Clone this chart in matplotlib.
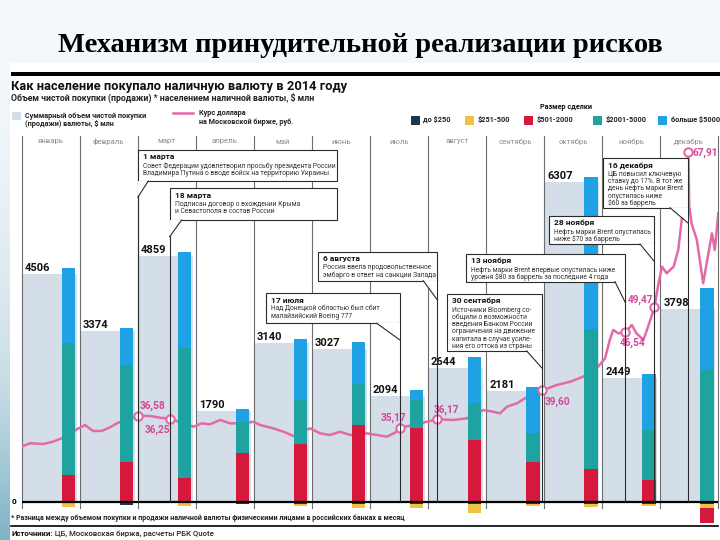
import numpy as np
import matplotlib
matplotlib.use("Agg")
import matplotlib.pyplot as plt
import matplotlib.transforms as mtransforms
from matplotlib.patches import Rectangle, Polygon

W, H = 720, 540
SANS = ["Roboto", "DejaVu Sans"]
plt.rcParams["font.family"] = SANS

# ── данные ───────────────────────────────────────────────────────────
months = ["январь", "февраль", "март", "апрель", "май", "июнь",
          "июль", "август", "сентябрь", "октябрь", "ноябрь", "декабрь"]
net_total = [4506, 3374, 4859, 1790, 3140, 3027, 2094, 2644, 2181, 6307, 2449, 3798]

# размер сделки, $ млн (отрицательные — чистая продажа)
upto_250 = [-10, -55, -10, -45, -40, -45, -40, -45, -40, -45, -40, -40]
from_251_500 = [-90, 0, -70, 0, -30, -80, -80, -170, -45, -60, -30, -80]
from_501_2000 = [540, 790, 467, 959, 1138, 1513, 1467, 1217, 797, 659, 442, -296]
from_2001_5000 = [2600, 1910, 2564, 623, 868, 822, 552, 736, 572, 2761, 973, 2598]
over_5000 = [1466, 729, 1908, 253, 1204, 817, 195, 906, 897, 2992, 1104, 1616]

seg_names = ["до $250", "$251-500", "$501-2000", "$2001-5000", "больше $5000"]
seg_values = [upto_250, from_251_500, from_501_2000, from_2001_5000, over_5000]
seg_colors = ["#1b3850", "#f0c246", "#d6183d", "#1fa3a0", "#1ea2e4"]

# курс доллара (позиция в месяцах от 1 января, руб.)
rate_pos = [0.00, 0.14, 0.37, 0.54, 0.69, 0.95, 1.09, 1.23, 1.38, 1.52, 1.66,
            2.00, 2.21, 2.38, 2.548, 2.96, 3.10, 3.24, 3.42, 3.59, 3.82, 3.99,
            4.11, 4.33, 4.51, 4.68, 4.97, 5.14, 5.31, 5.48, 5.66, 5.94, 6.12,
            6.29, 6.43, 6.516, 6.75, 6.98, 7.161, 7.44, 7.67, 7.95, 8.12, 8.24,
            8.36, 8.53, 8.67, 8.967, 9.22, 9.45, 9.67, 9.93, 10.05, 10.13,
            10.19, 10.28, 10.40, 10.51, 10.59, 10.71, 10.79, 10.90, 10.97,
            11.03, 11.11, 11.23, 11.31, 11.37, 11.43, 11.484, 11.50, 11.54,
            11.63, 11.74, 11.80, 11.89, 11.94, 12.00]
rate_val = [32.91, 33.32, 33.23, 33.51, 33.91, 34.98, 35.49, 34.78, 34.78, 35.22,
            35.76, 36.58, 36.56, 36.36, 36.25, 35.29, 35.69, 35.57, 36.09, 35.69,
            35.69, 35.88, 35.49, 35.10, 34.69, 34.18, 35.10, 34.50, 34.30, 34.69,
            34.30, 34.50, 34.30, 34.10, 34.58, 35.17, 35.49, 35.88, 36.17, 36.09,
            36.29, 37.27, 37.07, 36.88, 37.67, 38.07, 38.67, 39.60, 40.25, 40.64,
            41.23, 42.42, 43.42, 45.60, 46.79, 46.39, 46.54, 47.38, 46.39, 45.60,
            47.18, 49.47, 52.34, 54.31, 53.53, 54.31, 56.30, 59.87, 63.43, 67.91,
            61.45, 59.47, 57.49, 52.34, 54.72, 58.29, 56.30, 60.66]

event_pos = [2.0, 2.548, 6.516, 7.161, 8.967, 10.40, 10.90, 11.484]
event_val = [36.58, 36.25, 35.17, 36.17, 39.60, 46.54, 49.47, 67.91]
event_titles = ["1 марта", "18 марта", "17 июля", "6 августа", "30 сентября",
                "13 ноября", "28 ноября", "16 декабря"]
event_texts = [
    ["Совет Федерации удовлетворил просьбу президента России",
     "Владимира Путина о вводе войск на территорию Украины"],
    ["Подписан договор о вхождении Крыма", "и Севастополя в состав России"],
    ["Над Донецкой областью был сбит", "малайзийский Boeing 777"],
    ["Россия ввела продовольственное", "эмбарго в ответ на санкции Запада"],
    ["Источники Bloomberg со-", "общили о возможности", "введения Банком России",
     "ограничения на движение", "капитала в случае усиле-", "ния его оттока из страны"],
    ["Нефть марки Brent впервые опустилась ниже",
     "уровня $80 за баррель за последние 4 года"],
    ["Нефть марки Brent опустилась", "ниже $70 за баррель"],
    ["ЦБ повысил ключевую", "ставку до 17%. В тот же", "день нефть марки Brent",
     "опустилась ниже", "$60 за баррель"],
]

# ── раскладка (пиксели) ─────────────────────────────────────────────
X0, X1 = 21.7, 718.3
Y_TOP, Y_BOT, Y_ZERO = 130, 530, 502
PX_PER_MLN = 0.0507
R_REF, Y_REF, PX_PER_RUB = 35.17, 427.7, 8.41

LIGHT = "#d3dee8"
PINK = "#e36aa6"
PINK_TXT = "#d2489a"

fig = plt.figure(figsize=(W / 100, H / 100), dpi=100, facecolor="#f5f8fb")

# полоса слева и белое поле инфографики
grad = fig.add_axes([0, 0, 10 / W, 1], zorder=-2)
g = np.linspace(0, 1, 200) ** 2
grad.imshow(g[:, None], aspect="auto", cmap=matplotlib.colors.LinearSegmentedColormap.from_list(
    "g", ["#f5f8fb", "#c8dde6", "#7fb3c6"]), origin="upper", extent=[0, 1, 0, 1])
grad.axis("off")
bg = fig.add_axes([10 / W, 0, 1 - 10 / W, 1 - 63 / H], zorder=-1)
bg.set_facecolor("white")
bg.set_xticks([]); bg.set_yticks([])
for s in bg.spines.values():
    s.set_visible(False)

ax = fig.add_axes([X0 / W, 1 - Y_BOT / H, (X1 - X0) / W, (Y_BOT - Y_TOP) / H])
ax.set_xlim(0, 12)
ax.set_ylim(-(Y_BOT - Y_ZERO) / PX_PER_MLN, (Y_ZERO - Y_TOP) / PX_PER_MLN)
ax.axis("off")

r_lo = R_REF - (Y_BOT - Y_REF) / PX_PER_RUB
r_hi = R_REF + (Y_REF - Y_TOP) / PX_PER_RUB
rate_y = mtransforms.Affine2D().translate(0, -r_lo).scale(1, 1 / (r_hi - r_lo)) + ax.transAxes
tr_rate = mtransforms.blended_transform_factory(ax.transData, rate_y)

ov = fig.add_axes([0, 0, 1, 1], zorder=5)
ov.set_xlim(0, W)
ov.set_ylim(H, 0)
ov.axis("off")

x = np.arange(12)

# суммарный объем
ax.bar(x + 0.475, net_total, width=0.95, color=LIGHT, zorder=1)
for i, v in enumerate(net_total):
    ax.annotate(str(v), (i, v), xytext=(3, 1), textcoords="offset pixels",
                ha="left", va="bottom", fontsize=8, fontweight="bold", color="#111", zorder=4)

# разделители месяцев
for m in range(13):
    ax.plot([m, m], [-6 / PX_PER_MLN, (Y_ZERO - 136) / PX_PER_MLN], color="#6d6d6d",
            lw=0.8, zorder=1.5, clip_on=False)
for i, name in enumerate(months):
    ax.text(i + 0.5, (Y_ZERO - 141.5) / PX_PER_MLN, name, ha="center", va="center",
            fontsize=5.6, color="#8a8a8a", zorder=4)

# курс
ax.plot(rate_pos, rate_val, transform=tr_rate, color=PINK, lw=1.8, zorder=2,
        solid_joinstyle="round")

# составные столбцы
pos_b = np.zeros(12)
neg_b = np.zeros(12)
for vals, col in zip(seg_values, seg_colors):
    v = np.array(vals, dtype=float)
    bottom = np.where(v >= 0, pos_b, neg_b)
    ax.bar(x + 0.805, v, width=0.23, bottom=bottom, color=col, zorder=3, linewidth=0)
    pos_b += np.where(v >= 0, v, 0)
    neg_b += np.where(v < 0, v, 0)

ax.plot([0, 12], [0, 0], color="black", lw=1.6, zorder=3.2, solid_capstyle="butt")
ax.text(-0.1, 0, "0", ha="right", va="center", fontsize=6, fontweight="bold")


def px_of(pos, val, tr):
    dx, dy = tr.transform((pos, val))
    return dx, H - dy


# события: выноски
boxes = [
    # (сторона привязки, другой край x, верх, низ, начало хвоста x, конец хвоста y)
    ("left", 337.3, 150.0, 181.0, 148.3, 197.3),
    ("left", 337.3, 188.3, 220.0, 181.7, 236.7),
    ("right", 265.7, 293.3, 323.3, 376.7, 340.0),
    ("right", 318.3, 251.7, 280.7, 423.3, 300.0),
    ("right", 446.7, 294.0, 351.0, 526.7, 368.3),
    ("right", 465.7, 254.0, 281.7, 615.0, 302.7),
    ("right", 549.0, 216.0, 244.0, 640.0, 261.7),
    ("right", 603.3, 158.3, 207.7, 670.0, 223.3),
]
zero_px = px_of(0, 0, ax.transData)[1]
for k, (side, other, top, bot, tx, ty) in enumerate(boxes):
    ex, _ = px_of(event_pos[k], event_val[k], tr_rate)
    left, right = (ex, other) if side == "left" else (other, ex)
    ov.add_patch(Rectangle((left, top), right - left, bot - top, facecolor="white",
                           edgecolor="#2b2b2b", lw=0.8, zorder=6))
    ov.add_patch(Polygon([(tx, bot), (ex, bot), (ex, ty)], closed=True,
                         facecolor="white", edgecolor="none", zorder=6))
    ov.plot([tx, ex], [bot, ty], color="#2b2b2b", lw=0.8, zorder=6.5)
    ov.plot([ex, ex], [bot, zero_px], color="#2b2b2b", lw=0.8, zorder=2)
    ov.text(left + 5, top + 6.8, event_titles[k], fontsize=6, fontweight="bold",
            va="center", ha="left", color="#111", zorder=7)
    for j, line in enumerate(event_texts[k]):
        ov.text(left + 5, top + 16 + j * 7.3, line, fontsize=4.9, va="center",
                ha="left", color="#333", zorder=7)

# маркеры и подписи курса
ax.plot(event_pos, event_val, "o", transform=tr_rate, ms=6, mfc="white", mec=PINK,
        mew=1.5, zorder=5, clip_on=False)
label_offsets = [(2, 10, "left"), (1, -11, "right"), (-6, 10, "center"),
                 (9, 9, "center"), (2, -11, "left"), (7, -11, "center"),
                 (-1, 8, "right"), (4, 0, "left")]
for k, (dx, dy, ha) in enumerate(label_offsets):
    ax.annotate(f"{event_val[k]:.2f}".replace(".", ","), (event_pos[k], event_val[k]),
                xycoords=tr_rate, xytext=(dx, dy), textcoords="offset pixels",
                ha=ha, va="center", fontsize=7.3, fontweight="bold", color=PINK_TXT,
                zorder=6, annotation_clip=False)

# ── заголовки и легенда ─────────────────────────────────────────────
ov.text(360, 45, "Механизм принудительной реализации рисков", ha="center", va="center",
        family=["Liberation Serif", "DejaVu Serif"], fontweight="bold", fontsize=20.5)
ov.add_patch(Rectangle((11, 71.5), W - 11, 4.5, color="black", lw=0))
ov.text(11, 86.7, "Как население покупало наличную валюту в 2014 году", fontsize=9.3,
        fontweight="bold", va="center", ha="left", color="#111")
ov.text(11, 98.3, "Объем чистой покупки (продажи) * населением наличной валюты, $ млн",
        fontsize=6.3, fontweight="bold", va="center", ha="left", color="#222")

ov.add_patch(Rectangle((11.5, 111.5), 9.5, 8, color=LIGHT, lw=0))
ov.text(25, 116, "Суммарный объем чистой покупки", fontsize=5.2, fontweight="bold",
        va="center", ha="left", color="#222")
ov.text(25, 124.5, "(продажи) валюты, $ млн", fontsize=5.2, fontweight="bold",
        va="center", ha="left", color="#222")
ov.plot([173, 192.5], [112.7, 112.7], color=PINK, lw=1.8)
ov.text(199, 113, "Курс доллара", fontsize=5.2, fontweight="bold", va="center",
        ha="left", color="#222")
ov.text(199, 121.5, "на Московской бирже, руб.", fontsize=5.2, fontweight="bold",
        va="center", ha="left", color="#222")

ov.text(566, 107.3, "Размер сделки", fontsize=5.2, fontweight="bold", va="center",
        ha="center", color="#111")
for lx, name, col in zip([410.7, 465, 524, 593.3, 658.3], seg_names, seg_colors):
    ov.add_patch(Rectangle((lx, 115.5), 9, 9, color=col, lw=0))
    ov.text(lx + 12.5, 120, name, fontsize=5.2, fontweight="bold", va="center",
            ha="left", color="#222")

# ── сноски ──────────────────────────────────────────────────────────
ov.text(11, 517.5, "* Разница между объемом покупки и продажи наличной валюты физическими "
        "лицами в российских банках в месяц", fontsize=5.0, fontweight="bold",
        va="center", ha="left", color="#222")
ov.plot([11, 718], [525.5, 525.5], color="black", lw=1.2)
t = ov.text(11, 534, "Источники:", fontsize=5.6, fontweight="bold", va="center",
            ha="left", color="#111")
ov.annotate(" ЦБ, Московская биржа, расчеты РБК Quote", xycoords=t, xy=(1, 0.5),
            va="center", ha="left", fontsize=5.6, color="#222", fontweight="medium")

fig.savefig("out.png", dpi=100, facecolor=fig.get_facecolor())
